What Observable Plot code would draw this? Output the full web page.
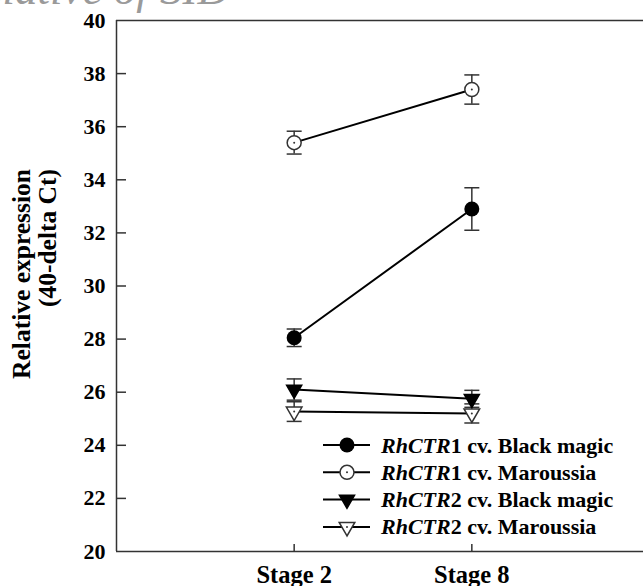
<!DOCTYPE html>
<html>
<head>
<meta charset="utf-8">
<script src="https://cdn.jsdelivr.net/npm/d3@7"></script>
<script src="https://cdn.jsdelivr.net/npm/@observablehq/plot@0.6"></script>
<style>
  html, body { margin: 0; padding: 0; background: #fff; overflow: hidden; }
  #wrap { position: relative; width: 643px; height: 586px; }
  #legend { position: absolute; left: 310px; top: 425px; }
</style>
</head>
<body>
<div id="wrap"></div>
<script>
// ---- data ----
const stages = ["Stage 2", "Stage 8"];
const seriesNames = [
  "RhCTR1 cv. Black magic",
  "RhCTR1 cv. Maroussia",
  "RhCTR2 cv. Black magic",
  "RhCTR2 cv. Maroussia"
];
const ctr1BlackMagic = [28.05, 32.9];
const ctr1BlackMagicErr = [0.33, 0.8];
const ctr1Maroussia = [35.4, 37.4];
const ctr1MaroussiaErr = [0.43, 0.55];
const ctr2BlackMagic = [26.1, 25.75];
const ctr2BlackMagicErr = [0.4, 0.32];
const ctr2Maroussia = [25.27, 25.2];
const ctr2MaroussiaErr = [0.37, 0.36];
const yTicks = [20, 22, 24, 26, 28, 30, 32, 34, 36, 38, 40];
const yTitle = ["Relative expression", "(40-delta Ct)"];
const titleFragment = "Relative of SID";

const means = [ctr1BlackMagic, ctr1Maroussia, ctr2BlackMagic, ctr2Maroussia];
const errs = [ctr1BlackMagicErr, ctr1MaroussiaErr, ctr2BlackMagicErr, ctr2MaroussiaErr];

const rows = [];
seriesNames.forEach((s, k) => {
  stages.forEach((st, i) => {
    rows.push({series: s, k, x: i + 1, mean: means[k][i], err: errs[k][i]});
  });
});

// ---- symbols ----
const triangleDown = {
  draw(ctx, size) {
    const a = Math.sqrt(4 * size / Math.sqrt(3));
    const h = a * Math.sqrt(3) / 2;
    ctx.moveTo(0, 2 * h / 3);
    ctx.lineTo(-a / 2, -h / 3);
    ctx.lineTo(a / 2, -h / 3);
    ctx.closePath();
  }
};
const capSymbol = {
  draw(ctx, size) {
    ctx.moveTo(-7.5, 0);
    ctx.lineTo(7.5, 0);
  }
};
const styles = [
  {symbol: "circle", r: 7.5, fill: "#000", stroke: "none", open: false},
  {symbol: "circle", r: 7, fill: "#fff", stroke: "#333", open: true},
  {symbol: triangleDown, r: 5.6, fill: "#000", stroke: "#000", open: false},
  {symbol: triangleDown, r: 5.8, fill: "#fff", stroke: "#333", open: true}
];

const FONT = "'Liberation Serif', 'Times New Roman', serif";

const dotMarks = styles.map((st, k) =>
  Plot.dot(rows.filter(d => d.k === k), {
    x: "x", y: "mean", r: st.r, symbol: st.symbol,
    fill: st.fill, stroke: st.stroke, strokeWidth: 1.5
  })
);

const chart = Plot.plot({
  width: 643,
  height: 586,
  marginTop: 20,
  marginBottom: 35,
  marginLeft: 116,
  marginRight: 0,
  style: {fontFamily: FONT, fontWeight: "bold", color: "#000", background: "#fff", overflow: "visible"},
  x: {domain: [0, 3], range: [116, 649]},
  y: {domain: [20, 40]},
  marks: [
    Plot.ruleY([20, 40], {stroke: "#333", strokeWidth: 1.5}),
    Plot.ruleX([0], {stroke: "#333", strokeWidth: 1.5}),
    Plot.axisY({ticks: yTicks, tickSize: 0, tickPadding: 11, fontSize: 22, fontWeight: "bold", label: null}),
    Plot.axisY({ticks: yTicks.slice(1, -1), tickSize: -10, text: null, stroke: "#333", strokeWidth: 1.5, label: null}),
    Plot.axisX({ticks: [1, 2], tickSize: 0, tickPadding: 14, fontSize: 24.5, fontWeight: "bold",
      tickFormat: d => stages[d - 1], label: null}),
    Plot.axisX({ticks: [1, 2], tickSize: -7, text: null, stroke: "#333", strokeWidth: 1.5, label: null}),
    Plot.ruleX(rows, {x: "x", y1: d => d.mean - d.err, y2: d => d.mean + d.err, stroke: "#333", strokeWidth: 1.5}),
    Plot.dot(rows, {x: "x", y: d => d.mean - d.err, symbol: capSymbol, stroke: "#333", strokeWidth: 1.5}),
    Plot.dot(rows, {x: "x", y: d => d.mean + d.err, symbol: capSymbol, stroke: "#333", strokeWidth: 1.5}),
    Plot.line(rows, {x: "x", y: "mean", z: "series", stroke: "#000", strokeWidth: 2}),
    ...dotMarks,
    Plot.dot(rows.filter(d => styles[d.k].open), {x: "x", y: "mean", r: 1, fill: "#333"})
  ]
});

const svg = d3.select(chart);
// cut-off title fragment at the top
svg.append("text")
  .attr("x", 230).attr("y", 4)
  .attr("text-anchor", "end")
  .attr("font-family", FONT)
  .attr("font-style", "italic")
  .attr("font-weight", "normal")
  .attr("font-size", 45)
  .attr("fill", "#9a9a9a")
  .text(titleFragment);

// y axis title (two rotated lines)
const yTitlePos = [30, 56];
yTitle.forEach((t, i) => {
  svg.append("text")
    .attr("transform", `translate(${yTitlePos[i]},169) rotate(-90)`)
    .attr("text-anchor", "end")
    .attr("font-family", FONT)
    .attr("font-weight", "bold")
    .attr("font-size", 25.5)
    .attr("fill", "#000")
    .text(t);
});

const wrap = document.getElementById("wrap");
wrap.appendChild(chart);

// ---- legend ----
const lg = d3.select(wrap).append("svg")
  .attr("id", "legend")
  .attr("width", 333).attr("height", 120)
  .style("overflow", "visible");
seriesNames.forEach((name, k) => {
  const cy = 20 + 27.3 * k;
  const g = lg.append("g").attr("transform", `translate(0,${cy})`);
  g.append("line").attr("x1", 13).attr("x2", 60).attr("y1", 0).attr("y2", 0)
    .attr("stroke", "#000").attr("stroke-width", 2);
  const st = styles[k];
  const size = st.r * st.r * Math.PI;
  const sym = st.symbol === "circle" ? d3.symbolCircle : st.symbol;
  g.append("path").attr("transform", "translate(37,0)")
    .attr("d", d3.symbol(sym, size)())
    .attr("fill", st.fill).attr("stroke", st.stroke).attr("stroke-width", 1.5);
  if (st.open) {
    g.append("circle").attr("cx", 37).attr("cy", 0).attr("r", 1).attr("fill", "#333");
  }
  const m = name.match(/^(RhCTR)(.*)$/);
  const txt = g.append("text").attr("x", 71).attr("y", 7.5)
    .attr("font-family", FONT).attr("font-weight", "bold").attr("font-size", 22).attr("fill", "#000");
  txt.append("tspan").attr("font-style", "italic").text(m[1]);
  txt.append("tspan").text(m[2]);
});
</script>
</body>
</html>
